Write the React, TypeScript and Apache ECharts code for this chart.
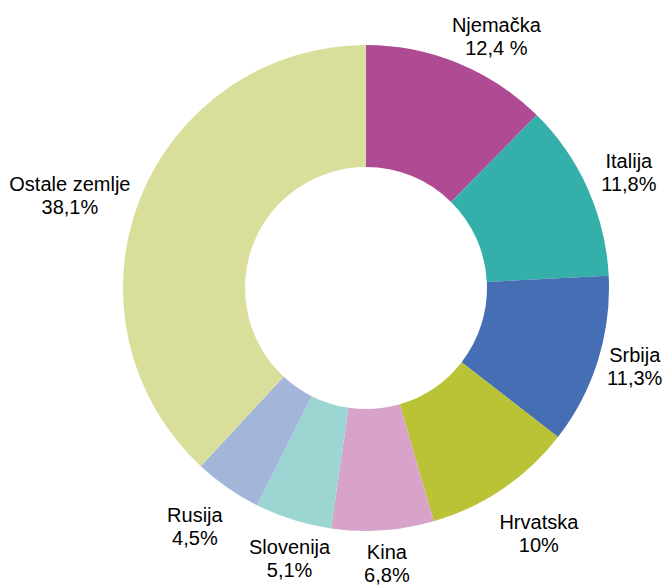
import React, { useEffect, useRef } from "react";
import * as echarts from "echarts";

const categories = ["Njemačka", "Italija", "Srbija", "Hrvatska", "Kina", "Slovenija", "Rusija", "Ostale zemlje"];
const values = [12.4, 11.8, 11.3, 10, 6.8, 5.1, 4.5, 38.1];
const valueLabels = ["12,4 %", "11,8%", "11,3%", "10%", "6,8%", "5,1%", "4,5%", "38,1%"];
const colors = ["#AE4B93", "#35AFA9", "#456EB5", "#BAC236", "#D7A3C9", "#9BD6D3", "#A3B6D9", "#D9DF9B"];
const labelOffsets: [number, number][] = [
  [21, 15], [0, 2], [-6, -8], [11, 7], [1, -12], [10, -4], [-7, 2], [-28, 13],
];

export default function App() {
  const ref = useRef<HTMLDivElement>(null);
  useEffect(() => {
    if (!ref.current) return;
    const chart = echarts.init(ref.current, undefined, { renderer: "svg" });
    const center = [366, 288];
    chart.setOption({
      animation: false,
      backgroundColor: "#ffffff",
      series: [
        {
          type: "pie",
          center,
          radius: [121, 243],
          startAngle: 90,
          clockwise: true,
          silent: true,
          label: { show: false },
          labelLine: { show: false },
          data: categories.map((c, i) => ({
            name: c,
            value: values[i],
            itemStyle: { color: colors[i] },
          })),
        },
        {
          type: "pie",
          center,
          radius: [270, 300],
          startAngle: 90,
          clockwise: true,
          silent: true,
          itemStyle: { color: "rgba(0,0,0,0)" },
          labelLine: { show: false },
          label: {
            show: true,
            position: "inside",
            color: "#000000",
            fontFamily: "Liberation Sans, Arial, sans-serif",
            fontSize: 20,
            lineHeight: 23,
            align: "center",
          },
          data: categories.map((c, i) => ({
            name: c,
            value: values[i],
            label: {
              formatter: c + "\n" + valueLabels[i],
              offset: labelOffsets[i],
            },
          })),
        },
      ],
    });
    return () => chart.dispose();
  }, []);
  return (
    <div
      ref={ref}
      style={{ position: "fixed", left: 0, top: 0, width: 666, height: 587 }}
    />
  );
}
